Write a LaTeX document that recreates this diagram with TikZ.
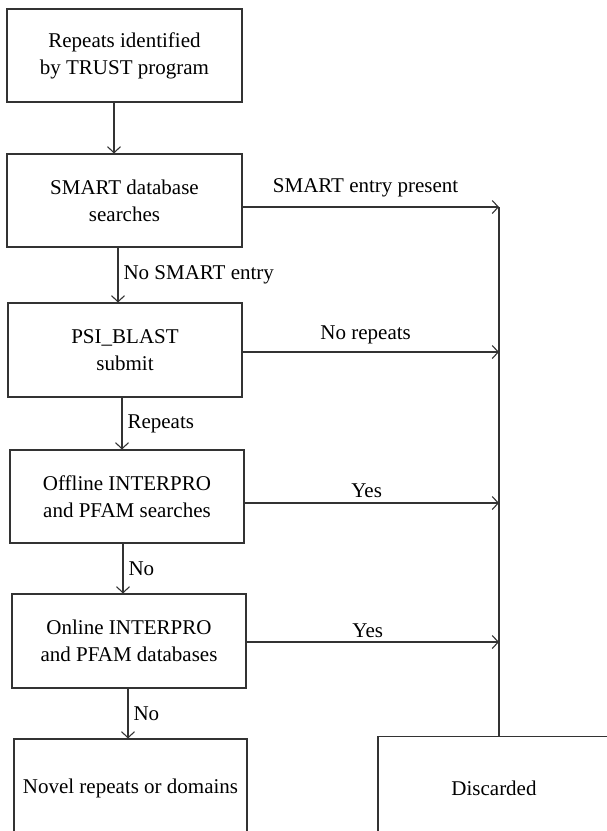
\documentclass[tikz,border=0pt]{standalone}
\usepackage{fontspec}
\setmainfont{Liberation Serif}
\usetikzlibrary{arrows.meta}

\begin{document}
\begin{tikzpicture}[x=1pt,y=-1pt,
  box/.style={draw=black!80,line width=1.1pt,align=center,font=\fontsize{21}{27}\selectfont,inner sep=0pt},
  lbl/.style={font=\fontsize{21}{27}\selectfont,inner sep=3pt},
  flow/.style={draw=black!80,line width=1.1pt,-{Straight Barb[length=6pt,width=13pt,line width=1.1pt]}},
  rail/.style={draw=black!80,line width=1.1pt}]
\useasboundingbox (0,0) rectangle (607,831);
\clip (0,0) rectangle (607,831);
% left column
\node[box,minimum width=235,minimum height=93] (trust) at (124.5,55.5) {Repeats identified\\by TRUST program};
\node[box,minimum width=235,minimum height=93] (smart) at (124.5,200.5) {SMART database\\searches};
\node[box,minimum width=234,minimum height=94] (psi) at (125,350) {PSI\_BLAST\\submit};
\node[box,minimum width=234,minimum height=93] (offline) at (127,496.5) {Offline INTERPRO\\and PFAM searches};
\node[box,minimum width=234,minimum height=94] (online) at (129,641) {Online INTERPRO\\and PFAM databases};
\node[box,minimum width=233,minimum height=99] (novel) at (130.5,788.5) {Novel repeats or domains};
% right column
\node[box,minimum width=232,minimum height=103] (disc) at (494,788) {Discarded};
\coordinate (top) at (499,207);
% downward flow
\draw[flow] ([xshift=-10.5]trust.south) -- ([xshift=-10.5]trust.south |- smart.north);
\draw[flow] ([xshift=-6.5]smart.south) -- ([xshift=-6.5]smart.south |- psi.north) node[lbl,midway,right=2pt] (nosmart) {No SMART entry};
\draw[flow] ([xshift=-3]psi.south) -- ([xshift=-3]psi.south |- offline.north) node[lbl,midway,right=2pt] (rep) {Repeats};
\draw[flow] ([xshift=-4]offline.south) -- ([xshift=-4]offline.south |- online.north) node[lbl,midway,right=2pt] (no1) {No};
\draw[flow] ([xshift=-1]online.south) -- ([xshift=-1]online.south |- novel.north) node[lbl,midway,right=2pt] (no2) {No};
% branches to the right
\draw[flow] ([yshift=-6.5]smart.east) -- ([yshift=-6.5]smart.east -| top) node[lbl,pos=0.48,above=6pt] (present) {SMART entry present};
\draw[flow] ([yshift=-2]psi.east) -- ([yshift=-2]psi.east -| top) node[lbl,pos=0.48,above=4pt] (norep) {No repeats};
\draw[flow] ([yshift=-6.5]offline.east) -- ([yshift=-6.5]offline.east -| top) node[lbl,pos=0.48,above=2pt] (yes1) {Yes};
\draw[flow] ([yshift=-1]online.east) -- ([yshift=-1]online.east -| top) node[lbl,pos=0.48,above=1pt] (yes2) {Yes};
\draw[rail] (top) -- (top |- disc.north);
\end{tikzpicture}
\end{document}
